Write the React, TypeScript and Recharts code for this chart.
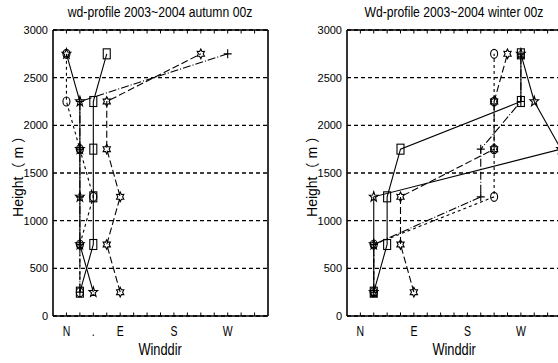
import React from 'react';
import { ScatterChart, Scatter, XAxis, YAxis, CartesianGrid } from 'recharts';

// heights of the sounding levels (m)
const heights = [250, 750, 1250, 1750, 2250, 2750];
const heightTicks = [0, 500, 1000, 1500, 2000, 2500, 3000];
const dirTicks = [0, 22.5, 45, 67.5, 90, 112.5, 135, 157.5, 180, 202.5, 225, 247.5, 270, 292.5, 315];
const autumnDirLabels: Record<number, string> = { 0: 'N', 45: '.', 90: 'E', 180: 'S', 270: 'W' };
const winterDirLabels: Record<number, string> = { 0: 'N', 90: 'E', 180: 'S', 270: 'W' };

// wind direction (deg) per height level, autumn
const autumnCircle = [22.5, 22.5, 45, 22.5, 0, 0];
const autumnStar = [45, 22.5, 22.5, 22.5, 22.5, 0];
const autumnSquare = [22.5, 45, 45, 45, 45, 67.5];
const autumnHexagram = [90, 67.5, 90, 67.5, 67.5, 225];
const autumnPlus = [22.5, 22.5, 22.5, 22.5, 22.5, 270];

// winter
const winterCircle = [22.5, 22.5, 225, 225, 225, 225];
const winterStar = [22.5, 22.5, 22.5, 337.5, 292.5, 270];
const winterSquare = [22.5, 45, 45, 67.5, 270, 270];
const winterHexagram = [90, 67.5, 67.5, 225, 225, 247.5];
const winterPlus = [22.5, 22.5, 202.5, 202.5, 270, 270];

const FONT = "'Liberation Sans', Arial, 'Noto Sans CJK SC', sans-serif";

type Kind = 'circle' | 'star' | 'square' | 'hexagram' | 'plus';

const toPoints = (dirs: number[]) => dirs.map((wd, i) => ({ wd, h: heights[i] }));

const starPoints = (cx: number, cy: number, n: number, ro: number, ri: number) => {
  const pts: string[] = [];
  for (let i = 0; i < n * 2; i++) {
    const r = i % 2 === 0 ? ro : ri;
    const a = -Math.PI / 2 + (i * Math.PI) / n;
    pts.push(`${cx + r * Math.cos(a)},${cy + r * 1.15 * Math.sin(a)}`);
  }
  return pts.join(' ');
};

const Marker = ({ cx, cy, kind }: { cx?: number; cy?: number; kind: Kind }) => {
  if (cx == null || cy == null) return null;
  const s = { fill: 'none', stroke: '#000', strokeWidth: 1.1 };
  switch (kind) {
    case 'circle':
      return <ellipse cx={cx} cy={cy} rx={3.5} ry={4.5} {...s} />;
    case 'square':
      return <rect x={cx - 3.5} y={cy - 5} width={7} height={10} {...s} />;
    case 'star':
      return <polygon points={starPoints(cx, cy, 5, 4.6, 1.9)} {...s} />;
    case 'hexagram':
      return <polygon points={starPoints(cx, cy, 6, 4.2, 2.4)} {...s} />;
    default:
      return <path d={`M${cx - 4},${cy}H${cx + 4}M${cx},${cy - 4.5}V${cy + 4.5}`} {...s} />;
  }
};

const BottomTick = (props: any) => {
  const { x, y, payload, labels } = props;
  const text = labels[payload.value] ?? '';
  return (
    <g>
      <line x1={x} x2={x} y1={y} y2={y - 3.5} stroke="#000" strokeWidth={1} />
      {text && (
        <text
          transform={`translate(${x},${y + 20}) scale(0.7,1)`}
          textAnchor="middle"
          fontSize={15}
          fontFamily={FONT}
          fill="#000"
        >
          {text}
        </text>
      )}
    </g>
  );
};

const TopTick = (props: any) => {
  const { x, y } = props;
  return <line x1={x} x2={x} y1={y} y2={y + 3.5} stroke="#000" strokeWidth={1} />;
};

interface PanelProps {
  title: string;
  left: number;
  rightMargin: number;
  labels: Record<number, string>;
  series: { name: string; dirs: number[]; kind: Kind; dash?: string }[];
}

const Panel = ({ title, left, rightMargin, labels, series }: PanelProps) => {
  const plotWidth = 280 - 53 - 1 - rightMargin;
  return (
    <div style={{ position: 'absolute', left, top: 0, width: 280, height: 363 }}>
      <ScatterChart width={280} height={363} margin={{ top: 0, right: rightMargin, bottom: 0, left: 0 }}>
        <CartesianGrid xAxisId="b" yAxisId="l" vertical={false} stroke="#000" strokeWidth={1.3} strokeDasharray="4 3" />
        <XAxis
          xAxisId="b"
          dataKey="wd"
          type="number"
          domain={[-22.5, 337.5]}
          allowDataOverflow
          ticks={dirTicks}
          interval={0}
          height={47}
          tickSize={0}
          tickMargin={0}
          tickLine={false}
          axisLine={{ stroke: '#000', strokeWidth: 1.6 }}
          tick={<BottomTick labels={labels} />}
        />
        <XAxis
          xAxisId="t"
          orientation="top"
          dataKey="wd"
          type="number"
          domain={[-22.5, 337.5]}
          allowDataOverflow
          ticks={dirTicks}
          interval={0}
          height={30}
          tickSize={0}
          tickMargin={0}
          tickLine={false}
          axisLine={{ stroke: '#000', strokeWidth: 1.6 }}
          tick={<TopTick />}
        />
        <YAxis
          yAxisId="l"
          dataKey="h"
          type="number"
          domain={[0, 3000]}
          ticks={heightTicks}
          interval={0}
          width={53}
          tickLine={false}
          tickSize={0}
          tickMargin={5}
          axisLine={{ stroke: '#000', strokeWidth: 1.6 }}
          tick={{ fontSize: 11, fill: '#000', fontFamily: FONT }}
        />
        <YAxis
          yAxisId="r"
          orientation="right"
          dataKey="h"
          type="number"
          domain={[0, 3000]}
          width={1}
          tick={false}
          tickLine={false}
          axisLine={{ stroke: '#000', strokeWidth: 1.6 }}
        />
        {series.map((s) => (
          <Scatter
            key={s.name}
            name={s.name}
            xAxisId="b"
            yAxisId="l"
            data={toPoints(s.dirs)}
            line={{ stroke: '#000', strokeWidth: 1.1, strokeDasharray: s.dash }}
            shape={(p: any) => <Marker cx={p.cx} cy={p.cy} kind={s.kind} />}
            isAnimationActive={false}
          />
        ))}
      </ScatterChart>
      <div
        style={{
          position: 'absolute',
          left: 53,
          top: 4,
          width: plotWidth,
          textAlign: 'center',
          fontFamily: FONT,
          fontSize: 14,
          color: '#000',
          lineHeight: '16px',
          whiteSpace: 'nowrap',
        }}
      >
        <span style={{ display: 'inline-block', transform: 'scaleX(0.87)', transformOrigin: 'center' }}>{title}</span>
      </div>
      <div
        style={{
          position: 'absolute',
          left: 53,
          top: 342,
          width: plotWidth,
          textAlign: 'center',
          fontFamily: FONT,
          fontSize: 16,
          lineHeight: '16px',
          color: '#000',
        }}
      >
        <span style={{ display: 'inline-block', transform: 'scaleX(0.8)' }}>Winddir</span>
      </div>
      <div
        style={{
          position: 'absolute',
          left: 18 - 50,
          top: 173 - 9,
          width: 100,
          textAlign: 'center',
          fontFamily: FONT,
          fontSize: 14,
          lineHeight: '18px',
          color: '#000',
          transform: 'rotate(-90deg)',
          whiteSpace: 'nowrap',
        }}
      >
        Height（ m ）
      </div>
    </div>
  );
};

const autumnSeries = [
  { name: 'circle', dirs: autumnCircle, kind: 'circle' as Kind, dash: '3 3' },
  { name: 'star', dirs: autumnStar, kind: 'star' as Kind },
  { name: 'square', dirs: autumnSquare, kind: 'square' as Kind },
  { name: 'hexagram', dirs: autumnHexagram, kind: 'hexagram' as Kind, dash: '7 3' },
  { name: 'plus', dirs: autumnPlus, kind: 'plus' as Kind, dash: '8 2 1 2' },
];

const winterSeries = [
  { name: 'circle', dirs: winterCircle, kind: 'circle' as Kind, dash: '3 3' },
  { name: 'star', dirs: winterStar, kind: 'star' as Kind },
  { name: 'square', dirs: winterSquare, kind: 'square' as Kind },
  { name: 'hexagram', dirs: winterHexagram, kind: 'hexagram' as Kind, dash: '7 3' },
  { name: 'plus', dirs: winterPlus, kind: 'plus' as Kind, dash: '8 2 1 2' },
];

export default function App() {
  return (
    <div style={{ position: 'absolute', left: 0, top: 0, width: 558, height: 363, overflow: 'hidden', background: '#fff' }}>
      <Panel title="wd-profile 2003~2004 autumn 00z" left={0} rightMargin={11} labels={autumnDirLabels} series={autumnSeries} />
      <Panel title="Wd-profile 2003~2004 winter 00z" left={294} rightMargin={12} labels={winterDirLabels} series={winterSeries} />
    </div>
  );
}
